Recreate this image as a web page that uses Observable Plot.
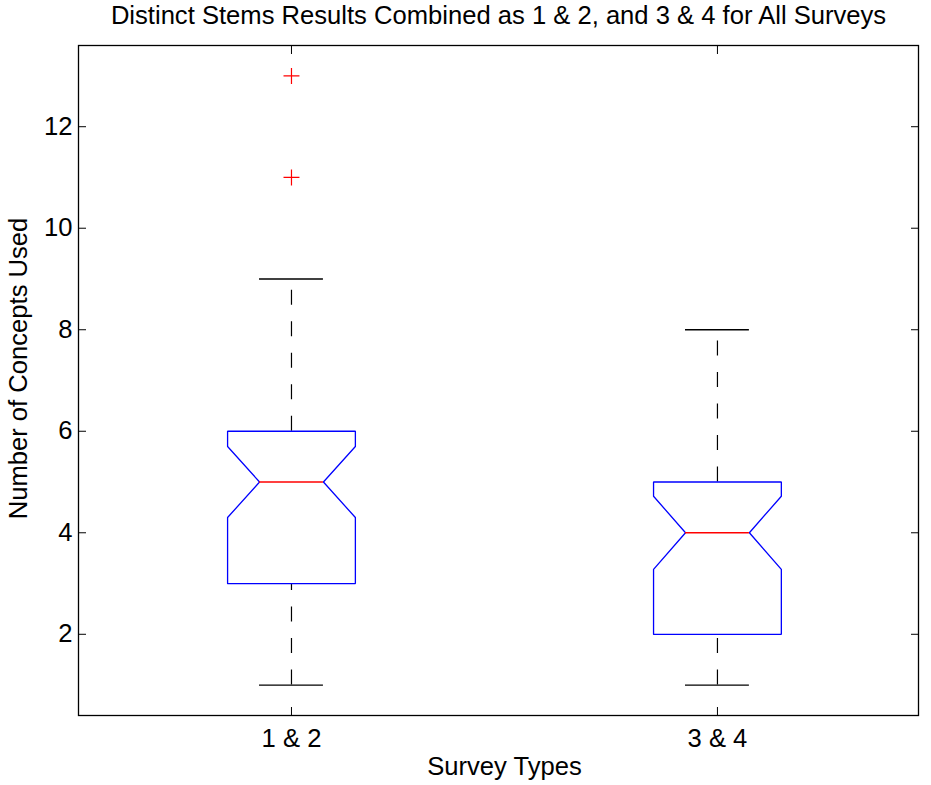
<!DOCTYPE html>
<html>
<head>
<meta charset="utf-8">
<script src="https://cdn.jsdelivr.net/npm/d3@7"></script>
<script src="https://cdn.jsdelivr.net/npm/@observablehq/plot@0.6"></script>
<style>
  html, body { margin: 0; padding: 0; background: #fff; }
  #chart svg { display: block; }
</style>
</head>
<body>
<div id="chart"></div>
<script>
// ---- data ----
const categories = ["1 & 2", "3 & 4"];
const positions = [1, 2];
const q1 = [3, 2];
const medians = [5, 4];
const q3 = [6, 5];
const notchLo = [4.3, 3.28];
const notchHi = [5.7, 4.72];
const whiskerLo = [1, 1];
const whiskerHi = [9, 8];
const outlierGroup = [1, 1];
const outlierValues = [13, 11];
const yTicks = [2, 4, 6, 8, 10, 12];
const titleText = "Distinct Stems Results Combined as 1 & 2, and 3 & 4 for All Surveys";
const xLabel = "Survey Types";
const yLabel = "Number of Concepts Used";

// ---- derived tables ----
const boxHalf = 0.15;
const notchHalf = 0.075;
const boxes = positions.map((c, i) => ({c, q1: q1[i], med: medians[i], q3: q3[i], lo: notchLo[i], hi: notchHi[i], wlo: whiskerLo[i], whi: whiskerHi[i]}));
const outline = boxes.flatMap((b, i) => [
  [b.c - boxHalf, b.q1], [b.c - boxHalf, b.lo], [b.c - notchHalf, b.med], [b.c - boxHalf, b.hi],
  [b.c - boxHalf, b.q3], [b.c + boxHalf, b.q3], [b.c + boxHalf, b.hi], [b.c + notchHalf, b.med],
  [b.c + boxHalf, b.lo], [b.c + boxHalf, b.q1], [b.c - boxHalf, b.q1]
].map(([x, y]) => ({x, y, g: i})));
const outliers = outlierValues.map((v, i) => ({x: outlierGroup[i], y: v}));

const font = "'Liberation Sans', Arial, Helvetica, sans-serif";
const fs = 25.6;

const chart = Plot.plot({
  width: 931,
  height: 785,
  marginLeft: 78,
  marginRight: 13,
  marginTop: 45,
  marginBottom: 70,
  style: {fontFamily: font, fontSize: fs + "px", background: "#fff", color: "#000"},
  x: {type: "linear", domain: [0.5, 2.472]},
  y: {domain: [0.4, 13.6]},
  marks: [
    Plot.frame({stroke: "#000", strokeWidth: 1.3}),
    Plot.axisY({anchor: "left", ticks: yTicks, tickSize: -8, tickPadding: 14, label: null, fontSize: fs, stroke: "#000"}),
    Plot.axisY({anchor: "right", ticks: yTicks, tickSize: -8, tickFormat: () => "", label: null}),
    Plot.axisX({anchor: "bottom", ticks: positions, tickSize: -8, tickPadding: 21, tickFormat: (d) => categories[positions.indexOf(d)], label: null, fontSize: fs}),
    Plot.axisX({anchor: "top", ticks: positions, tickSize: -8, tickFormat: () => "", label: null}),
    // whiskers (dashed)
    Plot.ruleX(boxes, {x: "c", y1: "q3", y2: "whi", stroke: "#000", strokeWidth: 1.2, strokeDasharray: "15,16.5"}),
    Plot.ruleX(boxes, {x: "c", y1: "wlo", y2: "q1", stroke: "#000", strokeWidth: 1.2, strokeDasharray: "15,16.5"}),
    // whisker caps
    Plot.ruleY(boxes, {y: "whi", x1: (d) => d.c - notchHalf, x2: (d) => d.c + notchHalf, stroke: "#000", strokeWidth: 1.3}),
    Plot.ruleY(boxes, {y: "wlo", x1: (d) => d.c - notchHalf, x2: (d) => d.c + notchHalf, stroke: "#000", strokeWidth: 1.3}),
    // notched boxes
    Plot.line(outline, {x: "x", y: "y", z: "g", stroke: "#0000ff", strokeWidth: 1.3, strokeLinejoin: "miter", curve: "linear"}),
    // medians
    Plot.ruleY(boxes, {y: "med", x1: (d) => d.c - notchHalf, x2: (d) => d.c + notchHalf, stroke: "#ff0000", strokeWidth: 1.3}),
    // outliers
    Plot.dot(outliers, {x: "x", y: "y", symbol: "plus", r: 5.2, stroke: "#ff0000", strokeWidth: 1.2}),
    // title and axis labels
    Plot.text([titleText], {frameAnchor: "top", dy: -40, fontSize: fs, fill: "#000"}),
    Plot.text([xLabel], {frameAnchor: "bottom", dy: 59, dx: 6, fontSize: fs, fill: "#000"}),
    Plot.text([yLabel], {frameAnchor: "left", textAnchor: "middle", dx: -60, dy: -12, rotate: -90, fontSize: fs, fill: "#000"})
  ]
});
document.getElementById("chart").appendChild(chart);
</script>
</body>
</html>
